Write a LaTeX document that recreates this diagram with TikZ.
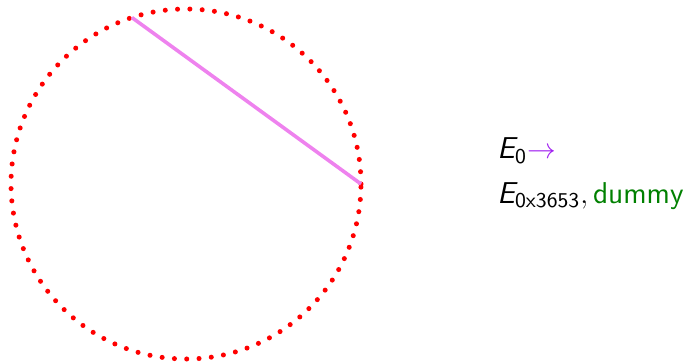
\documentclass[tikz,border=0pt]{standalone}
\usepackage{amsmath, amssymb}
\usetikzlibrary{calc}
\definecolor{chordviolet}{RGB}{238,130,238}
\definecolor{arrowviolet}{RGB}{160,32,240}
\definecolor{dummygreen}{RGB}{0,128,0}
\tikzset{
  dotcircle/.style={red, line width=2.1pt, line cap=round, dash pattern=on 0pt off 5.15pt},
  chordline/.style={chordviolet, line width=1.5pt},
  labeltext/.style={anchor=base west, inner sep=0pt, font=\sffamily\fontsize{12.6}{15}\selectfont}
}

\begin{document}
\begin{tikzpicture}[x=0.418pt, y=0.418pt]
    \useasboundingbox (0,0) rectangle (684,362);
    \coordinate (O) at (186,178);
    \coordinate (A) at ($(O)+(108:175)$);
    \coordinate (B) at ($(O)+(0:175)$);
    \draw[dotcircle] (O) circle (175);
    \draw[chordline] (A) -- (B);
    \node[labeltext] (first) at (497,203) {$\textit{E}_{\text{0}}\textcolor{arrowviolet}{\rightarrow}$};
    \node[labeltext] (second) at (497,159) {$\textit{E}_{\text{0x3653}},\textcolor{dummygreen}{\text{dummy}}$};
\end{tikzpicture}
\end{document}
